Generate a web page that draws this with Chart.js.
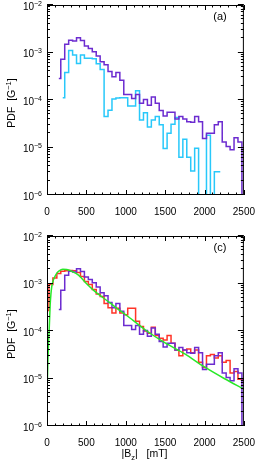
<!DOCTYPE html>
<html>
<head>
<meta charset="utf-8">
<script src="https://cdn.jsdelivr.net/npm/chart.js@4.4.1/dist/chart.umd.min.js"></script>
<style>
  html, body { margin: 0; padding: 0; background: #fff; }
  .panel { width: 266px; height: 231px; }
  canvas { display: block; }
</style>
</head>
<body>
<div class="panel"><canvas id="panel-a" width="266" height="231"></canvas></div>
<div class="panel"><canvas id="panel-c" width="266" height="231"></canvas></div>
<script>
// bin centres of the |Bz| histograms (mT)
const BINS = [0, 50, 100, 150, 200, 250, 300, 350, 400, 450, 500, 550, 600, 650, 700, 750, 800, 850, 900, 950,
  1000, 1050, 1100, 1150, 1200, 1250, 1300, 1350, 1400, 1450, 1500, 1550, 1600, 1650, 1700, 1750, 1800, 1850, 1900, 1950,
  2000, 2050, 2100, 2150, 2200, 2250, 2300, 2350, 2400, 2450, 2500];

// observed PDF (purple), panels (a) and (c)
const PURPLE = [null, null, null, 2.85e-4, 7.2e-4, 1.5e-3, 1.8e-3, 1.75e-3, 2.05e-3, 1.78e-3,
  1.37e-3, 1.22e-3, 1.04e-3, 8.4e-4, 6.4e-4, 5.5e-4, 4.0e-4, 3.1e-4, 3.8e-4, 2.6e-4,
  1.3e-4, 1.3e-4, 1.08e-4, 1.3e-4, 8.5e-5, 1.03e-4, 7.8e-5, 1.15e-4, 8.5e-5, 6.0e-5,
  4.6e-5, 5.5e-5, 5.5e-5, 4.0e-5, 4.5e-5, 4.0e-5, 3.5e-5, 3.4e-5, 4.5e-5, 3.5e-5,
  1.55e-5, 2.0e-5, 2.0e-5, 3.0e-5, 3.5e-5, 1.3e-5, 1.05e-5, 9e-6, 1.6e-5, 1.3e-5, 0];

// panel (a) second sample (cyan)
const CYAN = [null, null, null, null, 1.12e-4, 3.8e-4, 1.1e-3, 8.9e-4, 5.9e-4, 8.9e-4,
  7.6e-4, 7.6e-4, 7.4e-4, 5.8e-4, 4.4e-4, 4.5e-5, 6.1e-5, 1.05e-4, 1.1e-4, 1.12e-4,
  1.12e-4, 7.5e-5, 7.5e-5, 1.57e-4, 3.8e-5, 5.4e-5, 2.7e-5, 3.8e-5, 4.5e-5, 3.0e-5,
  9.5e-6, 2.0e-5, 3.1e-5, 4.3e-5, 6.2e-6, 1.5e-5, 6.2e-6, 3.2e-6, 9.6e-6, 0,
  0, 1.8e-5, 0, 3.1e-6, 3.1e-6, null, null, null, null, null, null];

// panel (c) second sample (red)
const RED = [2.7e-4, 9.5e-4, 1.3e-3, 1.62e-3, 1.8e-3, 1.85e-3, 1.88e-3, 1.85e-3, 1.7e-3, 1.4e-3,
  1.1e-3, 9.5e-4, 7.5e-4, 6.0e-4, 5.3e-4, 3.8e-4, 3.1e-4, 2.4e-4, 3.0e-4, 2.4e-4,
  2.2e-4, 3.0e-4, 3.0e-4, 1.6e-4, 1.25e-4, 1.0e-4, 9.0e-5, 1.2e-4, 8.0e-5, 7.0e-5,
  6.5e-5, 8.0e-5, 5.5e-5, 4.0e-5, 3.0e-5, 4.0e-5, 4.2e-5, 3.5e-5, 4.0e-5, 2.2e-5,
  1.7e-5, 3.0e-5, 3.2e-5, 2.7e-5, 3.0e-5, 2.2e-5, 2.4e-5, 1.3e-5, 1.4e-5, 9.6e-6, 9.6e-6];

// fitted distribution (green), panel (c)
const FIT_X = [4, 12, 20, 28, 40, 50, 60, 75, 100, 125, 150, 200, 250, 300, 400, 500, 600, 700, 800, 900,
  1000, 1250, 1500, 1750, 2000, 2250, 2500];
const FIT_Y = [8e-6, 2.5e-5, 6e-5, 1.1e-4, 3.5e-4, 6e-4, 8.5e-4, 1.1e-3, 1.4e-3, 1.65e-3, 1.82e-3, 2.0e-3, 1.97e-3,
  1.85e-3, 1.5e-3, 1.0e-3, 7.0e-4, 5.2e-4, 3.9e-4, 2.9e-4, 2.2e-4, 1.05e-4, 5.6e-5, 3.3e-5, 1.75e-5, 1.0e-5, 6.0e-6];

const X_TICKS = [0, 500, 1000, 1500, 2000, 2500];
const Y_DECADES = [-6, -5, -4, -3, -2];

const FONT = '"Liberation Sans", Arial, sans-serif';
// empty bins have no log value: send them far below the axis so the step drops off the frame
const EMPTY_BIN = 1e-9;

function pairs(xs, ys) {
  const out = [];
  xs.forEach((x, i) => {
    if (ys[i] === null) return;
    out.push({x: x, y: ys[i] === 0 ? EMPTY_BIN : ys[i]});
  });
  return out;
}

// draws pieces [text, size, dy] one after the other
function richText(ctx, pieces, x, y, align) {
  let total = 0;
  pieces.forEach(p => { ctx.font = p[1] + 'px ' + FONT; total += ctx.measureText(p[0]).width; });
  let cx = align === 'center' ? x - total / 2 : x;
  ctx.textAlign = 'left';
  pieces.forEach(p => {
    ctx.font = p[1] + 'px ' + FONT;
    ctx.fillText(p[0], cx, y + p[2]);
    cx += ctx.measureText(p[0]).width;
  });
}

const idlAxes = {
  id: 'idlAxes',
  afterDraw(chart, args, opts) {
    const {ctx, chartArea: a} = chart;
    const x = chart.scales.x, y = chart.scales.y;
    ctx.save();
    ctx.strokeStyle = '#000';
    ctx.lineWidth = 1;
    ctx.beginPath();
    ctx.rect(a.left + 0.5, a.top + 0.5, a.right - a.left - 1, a.bottom - a.top - 1);
    for (let v = 0; v <= 2500; v += 100) {
      const px = Math.round(x.getPixelForValue(v)) + 0.5;
      const len = v % 500 === 0 ? 5 : 2.5;
      ctx.moveTo(px, a.bottom); ctx.lineTo(px, a.bottom - len);
      ctx.moveTo(px, a.top); ctx.lineTo(px, a.top + len);
    }
    Y_DECADES.forEach(d => {
      for (let m = 1; m < 10; m++) {
        if (d === -2 && m > 1) break;
        const py = Math.round(y.getPixelForValue(m * Math.pow(10, d))) - 0.5;
        const len = m === 1 ? 6 : 3;
        ctx.moveTo(a.left, py); ctx.lineTo(a.left + len, py);
        ctx.moveTo(a.right, py); ctx.lineTo(a.right - len, py);
      }
    });
    ctx.stroke();

    ctx.fillStyle = '#000';
    ctx.textBaseline = 'alphabetic';
    Y_DECADES.forEach(d => {
      const py = y.getPixelForValue(Math.pow(10, d));
      const sup = '\u2212' + (-d);
      ctx.font = '7px ' + FONT;
      const ws = ctx.measureText(sup).width;
      ctx.textAlign = 'left';
      ctx.fillText(sup, 42 - ws, py + 0.6);
      ctx.font = '10px ' + FONT;
      ctx.textAlign = 'right';
      ctx.fillText('10', 42 - ws, py + 4.6);
    });

    ctx.save();
    ctx.translate(15, (a.top + a.bottom) / 2 + 3);
    ctx.rotate(-Math.PI / 2);
    richText(ctx, [['PDF  [G', 10.5, 0], ['\u22121', 7.5, -4], [']', 10.5, 0]], 0, 0, 'center');
    ctx.restore();

    ctx.font = '11px ' + FONT;
    ctx.textAlign = 'center';
    ctx.fillText(opts.label, 220, 20);

    if (opts.xTitle) {
      richText(ctx, [['|B', 10.5, 0], ['z', 7.5, 2.5], ['|   [mT]', 10.5, 0]], 144.5, 226, 'center');
    }
    ctx.restore();
  }
};

function line(label, data, color, stepped) {
  return {
    label: label,
    data: data,
    borderColor: color,
    backgroundColor: color,
    borderWidth: 1.5,
    pointRadius: 0,
    fill: false,
    stepped: stepped ? 'middle' : false,
    cubicInterpolationMode: stepped ? 'default' : 'monotone',
    tension: stepped ? 0 : 0.4
  };
}

function makeChart(id, datasets, label, xTitle) {
  return new Chart(id, {
    type: 'line',
    data: {datasets: datasets},
    options: {
      responsive: false,
      animation: false,
      devicePixelRatio: 1,
      layout: {padding: {left: 0, right: 13, top: 5, bottom: 0}},
      plugins: {
        legend: {display: false},
        tooltip: {enabled: false},
        idlAxes: {label: label, xTitle: xTitle}
      },
      scales: {
        x: {
          type: 'linear', min: 0, max: 2500,
          afterBuildTicks: s => { s.ticks = X_TICKS.map(v => ({value: v})); },
          afterFit: s => { s.height = 36; },
          grid: {display: false, drawTicks: false},
          border: {display: false},
          ticks: {
            color: '#000', font: {family: FONT, size: 10}, padding: 11, maxRotation: 0, autoSkip: false,
            callback: v => String(v)
          }
        },
        y: {
          type: 'logarithmic', min: 1e-6, max: 1e-2,
          afterFit: s => { s.width = 47; },
          grid: {display: false, drawTicks: false},
          border: {display: false},
          ticks: {display: false}
        }
      }
    },
    plugins: [idlAxes]
  });
}

makeChart('panel-a', [
  line('observed', pairs(BINS, PURPLE), 'rgb(108,44,208)', true),
  line('sample a', pairs(BINS, CYAN), 'rgb(40,200,250)', true)
], '(a)', false);

makeChart('panel-c', [
  line('fit', pairs(FIT_X, FIT_Y), 'rgb(40,232,40)', false),
  line('observed', pairs(BINS, PURPLE), 'rgb(108,44,208)', true),
  line('sample c', pairs(BINS, RED), 'rgb(255,52,40)', true)
], '(c)', true);
</script>
</body>
</html>
